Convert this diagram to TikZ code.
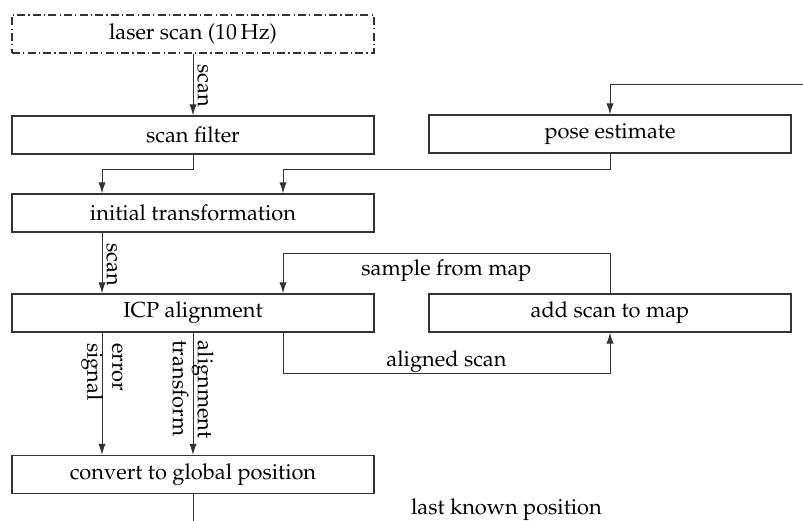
\documentclass[tikz,border=0pt]{standalone}
\usepackage[T1]{fontenc}
\usepackage{mathpazo}
\usetikzlibrary{arrows.meta,positioning,calc}
\tikzset{
  box/.style={draw=black!80, line width=0.6pt, rectangle, minimum width=181pt, minimum height=19pt, inner sep=0pt},
  srcbox/.style={box, dash pattern=on 4pt off 1.6pt on 0.6pt off 1.6pt},
  conn/.style={draw=black!80, line width=0.5pt},
  arr/.style={conn, -{Latex[length=5.5pt,width=3.6pt]}},
  vlab/.style={rotate=-90, align=left, inner sep=2pt},
}
\begin{document}
\begin{tikzpicture}[x=0.5pt,y=-0.5pt, every node/.style={font=\fontsize{10.9}{12.5}\selectfont}]
\path[use as bounding box, clip] (0,0) rectangle (803,520);
\node[srcbox] (laser) at (193,34) {laser scan (10\,Hz)};
\node[box] (filter) at (193,135) {scan filter};
\node[box] (pose) at (610,134) {pose estimate};
\node[box] (initial) at (193,213) {initial transformation};
\node[box] (icp) at (193,313) {ICP alignment};
\node[box] (add) at (610,313) {add scan to map};
\node[box] (convert) at (193,474.5) {convert to global position};

\coordinate (xa) at (102,169);
\coordinate (xb) at (283,169);
\coordinate (xc) at (283,253);
\coordinate (xd) at (283,373);
\coordinate (xe) at (610,373);
\coordinate (lbot) at (820,522);
\coordinate (ltop) at (820,84);

\draw[arr] (laser.south) -- node[vlab, anchor=south west, pos=0.1]{scan} (filter.north);
\draw[arr] (filter.south) |- (xa) -- (xa |- initial.north);
\draw[arr] (pose.south) |- (xb) -- (xb |- initial.north);
\draw[arr] (xa |- initial.south) -- node[vlab, anchor=south west, pos=0.1]{scan} (xa |- icp.north);
\draw[arr] (add.north) |- node[pos=0.75, below, inner sep=3pt]{sample from map} (xc) -- (xc |- icp.north);
\draw[arr] (xd |- icp.south) -- (xd) -- node[above, inner sep=0pt]{aligned scan} (xe) -- (add.south);
\draw[arr] (xa |- icp.south) -- node[vlab, anchor=west, pos=0.05]{error\\signal} (xa |- convert.north);
\draw[arr] (icp.south) -- node[vlab, anchor=west, pos=0.03]{alignment\\transform} (convert.north);
\draw[arr] (convert.south) |- node[pos=0.75, above, inner sep=0.5pt]{last known position} (lbot) |- (ltop) -| (pose.north);
\end{tikzpicture}
\end{document}
